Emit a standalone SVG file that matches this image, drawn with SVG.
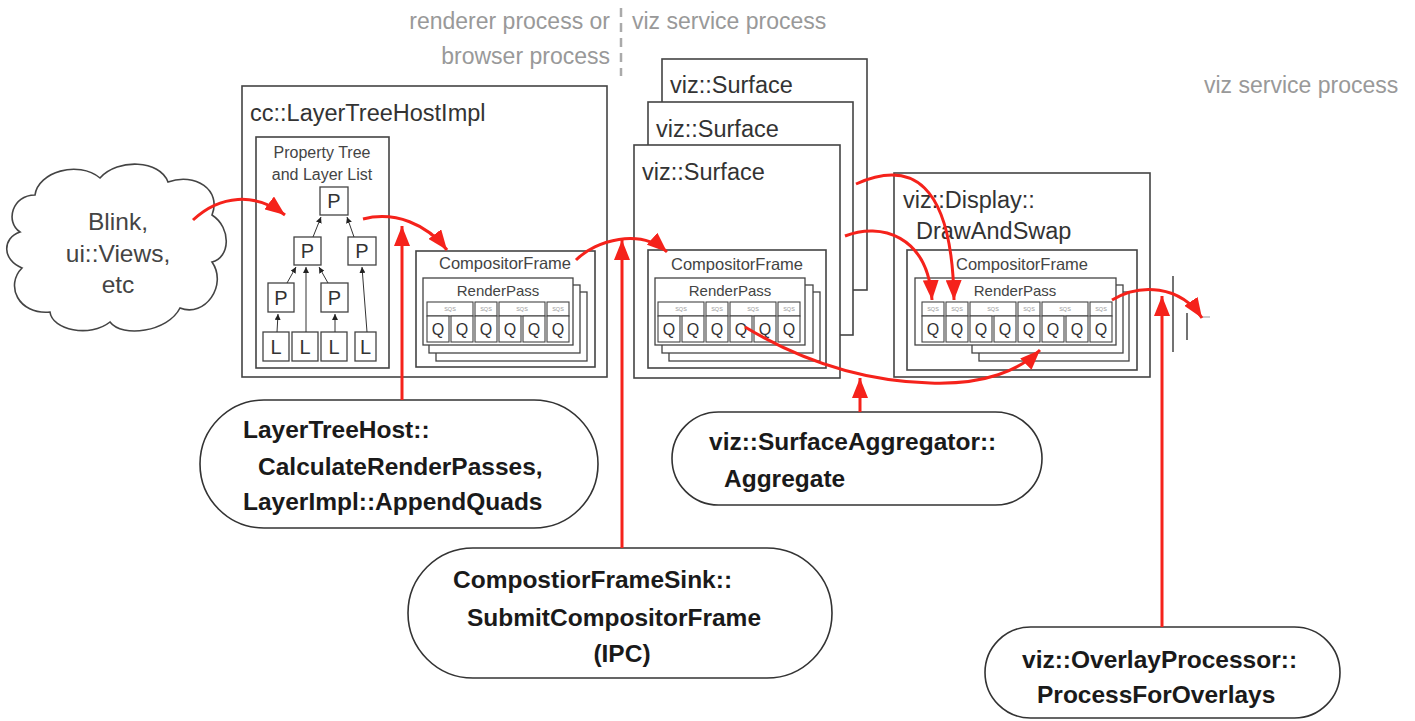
<svg xmlns="http://www.w3.org/2000/svg" width="1415" height="721" viewBox="0 0 1415 721">
  <style>
    text { font-family: "Liberation Sans", Arial, Helvetica, sans-serif; }
    .box { fill: #fff; stroke: #444; stroke-width: 1.6; }
    .thin { fill: #fff; stroke: #444; stroke-width: 1.3; }
    .cell { fill: #fff; stroke: #444; stroke-width: 1.1; }
    .big { font-size: 23.5px; fill: #333; }
    .proc { font-size: 23px; fill: #999; }
    .cf { font-size: 16.5px; fill: #444; text-anchor: middle; }
    .rp { font-size: 15px; fill: #444; text-anchor: middle; }
    .pl { font-size: 20px; fill: #333; text-anchor: middle; }
    .q { font-size: 16px; fill: #333; text-anchor: middle; }
    .sqs { font-size: 5.5px; fill: #999; text-anchor: middle; }
    .oval { fill: #fff; stroke: #333; stroke-width: 1.6; }
    .fn { font-size: 24.5px; font-weight: bold; fill: #1a1a1a; }
    .red { fill: none; stroke: #f5221b; stroke-width: 3; marker-end: url(#ah); }
    .tree { fill: none; stroke: #333; stroke-width: 1; marker-end: url(#sm); }
  </style>
  <defs>
    <marker id="ah" viewBox="0 0 20 16" refX="20" refY="8" markerWidth="20" markerHeight="16" markerUnits="userSpaceOnUse" orient="auto">
      <path d="M0 0 L20 8 L0 16 Z" fill="#f5221b"/>
    </marker>
    <marker id="sm" viewBox="0 0 6 6" refX="6" refY="3" markerWidth="6" markerHeight="6" markerUnits="userSpaceOnUse" orient="auto">
      <path d="M0 0 L6 3 L0 6 Z" fill="#222"/>
    </marker>
  </defs>
  <rect width="1415" height="721" fill="#fff"/>

  <!-- process labels and boundary -->
  <g id="process-labels">
    <text class="proc" x="610" y="29" text-anchor="end">renderer process or</text>
    <text class="proc" x="610" y="64" text-anchor="end">browser process</text>
    <text class="proc" x="632" y="29">viz service process</text>
    <text class="proc" x="1204" y="93">viz service process</text>
    <line x1="621" y1="8" x2="621" y2="76" stroke="#aaa" stroke-width="2.5" stroke-dasharray="9 6"/>
  </g>

  <!-- client cloud -->
  <g id="blink-cloud">
    <path class="box" d="M 20 232 C 5 222, 12 195, 35 195 C 38 172, 78 160, 100 178 C 118 158, 160 160, 168 182 C 195 172, 222 190, 212 215 C 232 228, 230 258, 212 262 C 228 285, 205 318, 180 308 C 168 332, 122 338, 110 322 C 90 338, 52 330, 50 312 C 18 315, 5 285, 22 268 C 2 260, 2 238, 20 232 Z"/>
    <text x="118" y="230" font-size="24.5" fill="#444" text-anchor="middle">Blink,</text>
    <text x="118" y="262" font-size="24.5" fill="#444" text-anchor="middle">ui::Views,</text>
    <text x="118" y="293" font-size="24.5" fill="#444" text-anchor="middle">etc</text>
  </g>

  <!-- cc::LayerTreeHostImpl -->
  <g id="layer-tree-host-impl">
    <rect class="box" x="242" y="86" width="365" height="291"/>
    <text class="big" x="250" y="121">cc::LayerTreeHostImpl</text>
  </g>

  <g id="property-tree">
    <rect class="box" x="256" y="137" width="133" height="231"/>
    <text x="322" y="158" font-size="16" fill="#444" text-anchor="middle">Property Tree</text>
    <text x="322" y="180" font-size="16" fill="#444" text-anchor="middle">and Layer List</text>
    <rect class="thin" x="320" y="187" width="28" height="28"/><text class="pl" x="334" y="208">P</text>
    <rect class="thin" x="294" y="237" width="27" height="28"/><text class="pl" x="307.5" y="258">P</text>
    <rect class="thin" x="348" y="237" width="28" height="28"/><text class="pl" x="362" y="258">P</text>
    <rect class="thin" x="268" y="283" width="26" height="29"/><text class="pl" x="281" y="305">P</text>
    <rect class="thin" x="321" y="283" width="27" height="29"/><text class="pl" x="334.5" y="305">P</text>
    <rect class="thin" x="263" y="332" width="26" height="29"/><text class="pl" x="276" y="354">L</text>
    <rect class="thin" x="292" y="332" width="26" height="29"/><text class="pl" x="305" y="354">L</text>
    <rect class="thin" x="321" y="332" width="26" height="29"/><text class="pl" x="334" y="354">L</text>
    <rect class="thin" x="355" y="332" width="21" height="29"/><text class="pl" x="365.5" y="354">L</text>
    <path class="tree" d="M 313 237 L 321 217"/>
    <path class="tree" d="M 354 237 L 347 217"/>
    <path class="tree" d="M 287 283 L 296 267"/>
    <path class="tree" d="M 306 332 L 306 267"/>
    <path class="tree" d="M 328 283 L 319 267"/>
    <path class="tree" d="M 367 332 L 362 267"/>
    <path class="tree" d="M 277 332 L 278 314"/>
    <path class="tree" d="M 335 332 L 335 314"/>
  </g>

  <!-- CompositorFrame produced by the client -->
  <g id="client-compositor-frame">
    <rect class="box" x="416" y="251" width="179" height="116"/>
    <text class="cf" x="505" y="269">CompositorFrame</text>
    <rect class="thin" x="436" y="292" width="151" height="69"/>
    <rect class="thin" x="429" y="285" width="151" height="68"/>
    <rect class="thin" x="423" y="278" width="150" height="67"/>
    <text class="rp" x="498" y="296">RenderPass</text>
    <rect class="cell" x="427" y="302" width="46" height="14"/><text class="sqs" x="450" y="311">SQS</text>
    <rect class="cell" x="475" y="302" width="22" height="14"/><text class="sqs" x="486" y="311">SQS</text>
    <rect class="cell" x="499" y="302" width="46" height="14"/><text class="sqs" x="522" y="311">SQS</text>
    <rect class="cell" x="547" y="302" width="22" height="14"/><text class="sqs" x="558" y="311">SQS</text>
    <rect class="cell" x="427" y="316" width="22" height="26"/><text class="q" x="438" y="335">Q</text>
    <rect class="cell" x="451" y="316" width="22" height="26"/><text class="q" x="462" y="335">Q</text>
    <rect class="cell" x="475" y="316" width="22" height="26"/><text class="q" x="486" y="335">Q</text>
    <rect class="cell" x="499" y="316" width="22" height="26"/><text class="q" x="510" y="335">Q</text>
    <rect class="cell" x="523" y="316" width="22" height="26"/><text class="q" x="534" y="335">Q</text>
    <rect class="cell" x="547" y="316" width="22" height="26"/><text class="q" x="558" y="335">Q</text>
  </g>

  <!-- viz::Surface stack -->
  <g id="surface-back">
    <rect class="box" x="662" y="59" width="205" height="231"/>
    <text class="big" x="670" y="93">viz::Surface</text>
  </g>
  <g id="surface-middle">
    <rect class="box" x="648" y="102" width="205" height="233"/>
    <text class="big" x="656" y="137">viz::Surface</text>
  </g>
  <g id="surface-front">
    <rect class="box" x="634" y="145" width="206" height="233"/>
    <text class="big" x="642" y="180">viz::Surface</text>
    <rect class="box" x="648" y="250" width="178" height="118"/>
    <text class="cf" x="737" y="270">CompositorFrame</text>
    <rect class="thin" x="669" y="292" width="151" height="69"/>
    <rect class="thin" x="662" y="285" width="151" height="68"/>
    <rect class="thin" x="655" y="278" width="150" height="67"/>
    <text class="rp" x="730" y="296">RenderPass</text>
    <rect class="cell" x="658" y="302" width="46" height="14"/><text class="sqs" x="681" y="311">SQS</text>
    <rect class="cell" x="706" y="302" width="22" height="14"/><text class="sqs" x="717" y="311">SQS</text>
    <rect class="cell" x="730" y="302" width="46" height="14"/><text class="sqs" x="753" y="311">SQS</text>
    <rect class="cell" x="778" y="302" width="22" height="14"/><text class="sqs" x="789" y="311">SQS</text>
    <rect class="cell" x="658" y="316" width="22" height="26"/><text class="q" x="669" y="335">Q</text>
    <rect class="cell" x="682" y="316" width="22" height="26"/><text class="q" x="693" y="335">Q</text>
    <rect class="cell" x="706" y="316" width="22" height="26"/><text class="q" x="717" y="335">Q</text>
    <rect class="cell" x="730" y="316" width="22" height="26"/><text class="q" x="741" y="335">Q</text>
    <rect class="cell" x="754" y="316" width="22" height="26"/><text class="q" x="765" y="335">Q</text>
    <rect class="cell" x="778" y="316" width="22" height="26"/><text class="q" x="789" y="335">Q</text>
  </g>

  <!-- viz::Display::DrawAndSwap -->
  <g id="display">
    <rect class="box" x="894" y="173" width="256" height="204"/>
    <text class="big" x="903" y="208">viz::Display::</text>
    <text class="big" x="916" y="239">DrawAndSwap</text>
    <rect class="box" x="907" y="250" width="230" height="120"/>
    <text class="cf" x="1022" y="270">CompositorFrame</text>
    <rect class="thin" x="979" y="292" width="150" height="69"/>
    <rect class="thin" x="972" y="285" width="151" height="68"/>
    <rect class="thin" x="915" y="278" width="201" height="67"/>
    <text class="rp" x="1015" y="296">RenderPass</text>
    <rect class="cell" x="922" y="302" width="22" height="14"/><text class="sqs" x="933" y="311">SQS</text>
    <rect class="cell" x="946" y="302" width="22" height="14"/><text class="sqs" x="957" y="311">SQS</text>
    <rect class="cell" x="970" y="302" width="46" height="14"/><text class="sqs" x="993" y="311">SQS</text>
    <rect class="cell" x="1018" y="302" width="22" height="14"/><text class="sqs" x="1029" y="311">SQS</text>
    <rect class="cell" x="1042" y="302" width="46" height="14"/><text class="sqs" x="1065" y="311">SQS</text>
    <rect class="cell" x="1090" y="302" width="22" height="14"/><text class="sqs" x="1101" y="311">SQS</text>
    <rect class="cell" x="922" y="316" width="22" height="26"/><text class="q" x="933" y="335">Q</text>
    <rect class="cell" x="946" y="316" width="22" height="26"/><text class="q" x="957" y="335">Q</text>
    <rect class="cell" x="970" y="316" width="22" height="26"/><text class="q" x="981" y="335">Q</text>
    <rect class="cell" x="994" y="316" width="22" height="26"/><text class="q" x="1005" y="335">Q</text>
    <rect class="cell" x="1018" y="316" width="22" height="26"/><text class="q" x="1029" y="335">Q</text>
    <rect class="cell" x="1042" y="316" width="22" height="26"/><text class="q" x="1053" y="335">Q</text>
    <rect class="cell" x="1066" y="316" width="22" height="26"/><text class="q" x="1077" y="335">Q</text>
    <rect class="cell" x="1090" y="316" width="22" height="26"/><text class="q" x="1101" y="335">Q</text>
  </g>

  <!-- swap target -->
  <g id="swap-target" stroke="#444" stroke-width="1.5">
    <line x1="1173" y1="276" x2="1173" y2="352"/>
    <line x1="1187" y1="313" x2="1187" y2="340"/>
    <line x1="1200" y1="317" x2="1210" y2="317" stroke="#999" stroke-width="1"/>
  </g>

  <!-- function ovals -->
  <g id="calc-render-passes">
    <rect class="oval" x="200" y="400" width="398" height="128" rx="64" ry="64"/>
    <text class="fn" x="243" y="438">LayerTreeHost::</text>
    <text class="fn" x="258" y="475">CalculateRenderPasses,</text>
    <text class="fn" x="243" y="510">LayerImpl::AppendQuads</text>
  </g>
  <g id="submit-frame">
    <rect class="oval" x="408" y="548" width="424" height="130" rx="65" ry="65"/>
    <text class="fn" x="453" y="588">CompostiorFrameSink::</text>
    <text class="fn" x="467" y="626">SubmitCompositorFrame</text>
    <text class="fn" x="622" y="662" text-anchor="middle">(IPC)</text>
  </g>
  <g id="aggregate">
    <rect class="oval" x="672" y="412" width="370" height="93" rx="46.5" ry="46.5"/>
    <text class="fn" x="709" y="450">viz::SurfaceAggregator::</text>
    <text class="fn" x="724" y="487">Aggregate</text>
  </g>
  <g id="overlays">
    <rect class="oval" x="985" y="627" width="355" height="91" rx="45.5" ry="45.5"/>
    <text class="fn" x="1022" y="668">viz::OverlayProcessor::</text>
    <text class="fn" x="1037" y="703">ProcessForOverlays</text>
  </g>

  <!-- data flow -->
  <g id="connectors">
    <path class="red" d="M 193 220 C 220 195, 255 192, 285 215"/>
    <path class="red" d="M 363 219 C 395 211, 427 224, 447 250"/>
    <path class="red" d="M 402 400 L 402 226"/>
    <path class="red" d="M 576 260 C 596 240, 640 228, 667 252"/>
    <path class="red" d="M 622 548 L 622 240"/>
    <path class="red" d="M 856 184 C 910 160, 952 180, 954 300"/>
    <path class="red" d="M 845 236 C 880 222, 928 235, 932 300"/>
    <path class="red" d="M 745 327 C 800 360, 860 381, 930 383 C 985 385, 1020 370, 1040 350"/>
    <path class="red" d="M 860 412 L 860 378"/>
    <path class="red" d="M 1162 627 L 1162 296"/>
    <path class="red" d="M 1112 300 C 1140 283, 1180 285, 1202 318"/>
  </g>
</svg>
